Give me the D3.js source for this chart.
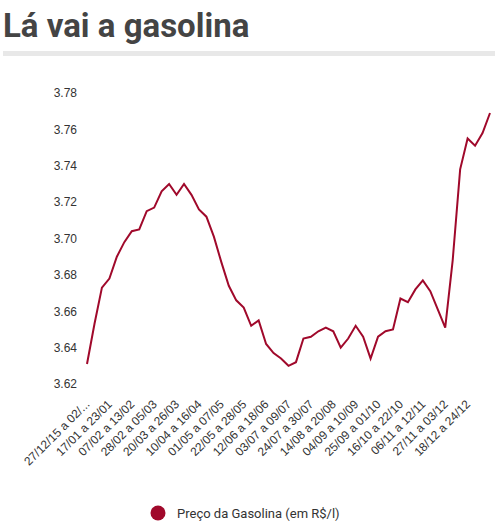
<!DOCTYPE html>
<html>
<head>
<meta charset="utf-8">
<script src="https://cdn.jsdelivr.net/npm/d3@7"></script>
<style>
  body { margin: 0; background: #fff; }
  text { font-family: "Liberation Sans", Arial, sans-serif; }
</style>
</head>
<body>
<script>
// weekly gasoline price, 2016
const weeks = [
  '27/12/15 a 02/01/16', '03/01 a 09/01', '10/01 a 16/01', '17/01 a 23/01', '24/01 a 30/01',
  '31/01 a 06/02', '07/02 a 13/02', '14/02 a 20/02', '21/02 a 27/02', '28/02 a 05/03',
  '06/03 a 12/03', '13/03 a 19/03', '20/03 a 26/03', '27/03 a 02/04', '03/04 a 09/04',
  '10/04 a 16/04', '17/04 a 23/04', '24/04 a 30/04', '01/05 a 07/05', '08/05 a 14/05',
  '15/05 a 21/05', '22/05 a 28/05', '29/05 a 04/06', '05/06 a 11/06', '12/06 a 18/06',
  '19/06 a 25/06', '26/06 a 02/07', '03/07 a 09/07', '10/07 a 16/07', '17/07 a 23/07',
  '24/07 a 30/07', '31/07 a 06/08', '07/08 a 13/08', '14/08 a 20/08', '21/08 a 27/08',
  '28/08 a 03/09', '04/09 a 10/09', '11/09 a 17/09', '18/09 a 24/09', '25/09 a 01/10',
  '02/10 a 08/10', '09/10 a 15/10', '16/10 a 22/10', '23/10 a 29/10', '30/10 a 05/11',
  '06/11 a 12/11', '13/11 a 19/11', '20/11 a 26/11', '27/11 a 03/12', '04/12 a 10/12',
  '11/12 a 17/12', '18/12 a 24/12', '25/12 a 31/12', '01/01 a 07/01', '08/01 a 14/01'
];
const price = [
  3.631, 3.653, 3.673, 3.678, 3.690, 3.698, 3.704, 3.705, 3.715, 3.717,
  3.726, 3.730, 3.724, 3.730, 3.724, 3.716, 3.712, 3.701, 3.687, 3.674,
  3.666, 3.662, 3.652, 3.655, 3.642, 3.637, 3.634, 3.630, 3.632, 3.645,
  3.646, 3.649, 3.651, 3.649, 3.640, 3.645, 3.652, 3.646, 3.634, 3.646,
  3.649, 3.650, 3.667, 3.665, 3.672, 3.677, 3.671, 3.661, 3.651, 3.688,
  3.738, 3.755, 3.751, 3.758, 3.769
];
// labelled weeks (every third one, up to 18/12)
const xTickLabels = [
  '27/12/15 a 02/01/16', '17/01 a 23/01', '07/02 a 13/02', '28/02 a 05/03', '20/03 a 26/03',
  '10/04 a 16/04', '01/05 a 07/05', '22/05 a 28/05', '12/06 a 18/06', '03/07 a 09/07',
  '24/07 a 30/07', '14/08 a 20/08', '04/09 a 10/09', '25/09 a 01/10', '16/10 a 22/10',
  '06/11 a 12/11', '27/11 a 03/12', '18/12 a 24/12'
];
const yTicks = [3.62, 3.64, 3.66, 3.68, 3.70, 3.72, 3.74, 3.76, 3.78];
const seriesName = 'Preço da Gasolina (em R$/l)';
const lineColor = '#a0092b';

const W = 500, H = 528;
const margin = {top: 93, right: 10, bottom: 144, left: 87};

const svg = d3.select('body').append('svg')
  .attr('width', W)
  .attr('height', H);

// title + grey rule
svg.append('text')
  .attr('x', 3).attr('y', 37)
  .style('font-family', 'Roboto, sans-serif')
  .style('font-weight', 'bold')
  .style('font-size', '33px')
  .attr('fill', '#444')
  .text('Lá vai a gasolina');

svg.append('rect')
  .attr('x', 3).attr('y', 51)
  .attr('width', 492).attr('height', 5)
  .attr('fill', '#e8e8e8');

const x = d3.scalePoint()
  .domain(weeks)
  .range([margin.left, 490]);

const y = d3.scaleLinear()
  .domain([3.62, 3.78])
  .range([384, 93]);

// y axis, labels only
const yAxis = svg.append('g')
  .attr('transform', 'translate(77,0)')
  .call(d3.axisLeft(y).tickValues(yTicks).tickFormat(d3.format('.2f')).tickSize(0).tickPadding(0));
yAxis.select('.domain').remove();
yAxis.selectAll('text')
  .style('font-size', '12px')
  .attr('fill', '#333');

// x axis
const xAxis = svg.append('g')
  .attr('transform', 'translate(-3,399)')
  .call(d3.axisBottom(x)
    .tickValues(xTickLabels)
    .tickFormat((d) => d.length > 16 ? d.slice(0, 14) + '...' : d)
    .tickSize(0).tickPadding(0));
xAxis.select('.domain').remove();
xAxis.selectAll('text')
  .style('font-size', '12px')
  .attr('fill', '#333')
  .attr('text-anchor', 'end')
  .attr('dy', '0.7em')
  .attr('dx', '0')
  .attr('transform', 'rotate(-45)');

// the line
const line = d3.line()
  .x((d, i) => x(weeks[i]))
  .y((d) => y(d));

svg.append('path')
  .datum(price)
  .attr('d', line)
  .attr('fill', 'none')
  .attr('stroke', lineColor)
  .attr('stroke-width', 2)
  .attr('stroke-linejoin', 'miter');

// legend
const legend = svg.append('g').attr('transform', 'translate(158,513)');
legend.append('circle')
  .attr('r', 7.5)
  .attr('fill', lineColor);
legend.append('text')
  .attr('x', 19).attr('y', 5)
  .style('font-family', 'Roboto, sans-serif')
  .style('font-size', '13px')
  .attr('fill', '#333')
  .text(seriesName);
</script>
</body>
</html>
